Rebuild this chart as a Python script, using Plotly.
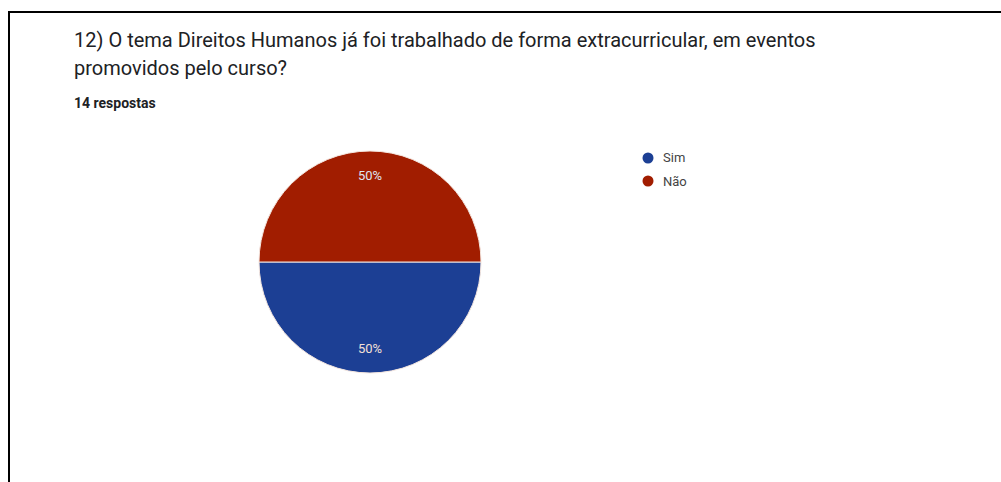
import math
import plotly.graph_objects as go

# Survey answers
categories = ["Sim", "Não"]
counts = [7, 7]
colors = ["#1c3f94", "#a11d00"]
label_colors = ["#dfe5f2", "#f3e0d6"]
title_lines = [
    "12) O tema Direitos Humanos já foi trabalhado de forma extracurricular, em eventos",
    "promovidos pelo curso?",
]
subtitle = "14 respostas"

W, H = 1001, 482
FONT = "Roboto, Arial, sans-serif"

# Pie placement (pixels)
cx, cy, r = 370, 262, 111

fig = go.Figure()
fig.add_trace(go.Pie(
    labels=categories,
    values=counts,
    marker=dict(colors=colors, line=dict(color="#f4e6df", width=1)),
    sort=False,
    direction="clockwise",
    rotation=90,
    textinfo="none",
    hoverinfo="label+percent",
    showlegend=False,
    domain=dict(x=[(cx - r) / W, (cx + r) / W], y=[1 - (cy + r) / H, 1 - (cy - r) / H]),
))

annotations = []
# Percentage labels at each slice's mid-angle (first slice starts at 9 o'clock, clockwise)
total = sum(counts)
acc = 0.0
for v, lc in zip(counts, label_colors):
    frac_mid = (acc + v / 2) / total
    ang = math.radians(180 - 360 * frac_mid)
    acc += v
    lx = cx + 0.78 * r * math.cos(ang)
    ly = cy - 0.78 * r * math.sin(ang)
    annotations.append(dict(
        x=lx / W, y=1 - ly / H, xref="paper", yref="paper",
        text=f"{round(100 * v / total)}%", showarrow=False,
        font=dict(family=FONT, size=13, color=lc),
        xanchor="center", yanchor="middle",
    ))

# Title and subtitle
annotations.append(dict(
    x=72 / W, y=1 - 40 / H, xref="paper", yref="paper", text=title_lines[0],
    showarrow=False, xanchor="left", yanchor="middle",
    font=dict(family=FONT, size=20, color="#202124"),
))
annotations.append(dict(
    x=72 / W, y=1 - 68 / H, xref="paper", yref="paper", text=title_lines[1],
    showarrow=False, xanchor="left", yanchor="middle",
    font=dict(family=FONT, size=20, color="#202124"),
))
annotations.append(dict(
    x=72 / W, y=1 - 103 / H, xref="paper", yref="paper", text=f"<b>{subtitle}</b>",
    showarrow=False, xanchor="left", yanchor="middle",
    font=dict(family=FONT, size=14, color="#202124"),
))

# Legend with round swatches
shapes = []
for i, (cat, col) in enumerate(zip(categories, colors)):
    ly = 158 + 23 * i
    shapes.append(dict(
        type="circle", xref="paper", yref="paper",
        x0=(648 - 5.5) / W, x1=(648 + 5.5) / W,
        y0=1 - (ly + 5.5) / H, y1=1 - (ly - 5.5) / H,
        fillcolor=col, line=dict(width=0),
    ))
    annotations.append(dict(
        x=661 / W, y=1 - ly / H, xref="paper", yref="paper", text=cat,
        showarrow=False, xanchor="left", yanchor="middle",
        font=dict(family=FONT, size=13, color="#444444"),
    ))

# Frame lines (top and left)
shapes.append(dict(type="line", xref="paper", yref="paper",
                   x0=8.5 / W, x1=1, y0=1 - 12 / H, y1=1 - 12 / H,
                   line=dict(color="black", width=2)))
shapes.append(dict(type="line", xref="paper", yref="paper",
                   x0=9 / W, x1=9 / W, y0=0, y1=1 - 11 / H,
                   line=dict(color="black", width=2)))

fig.update_layout(
    width=W, height=H,
    margin=dict(l=0, r=0, t=0, b=0),
    paper_bgcolor="white",
    plot_bgcolor="white",
    annotations=annotations,
    shapes=shapes,
)

fig.write_html("out.html")
